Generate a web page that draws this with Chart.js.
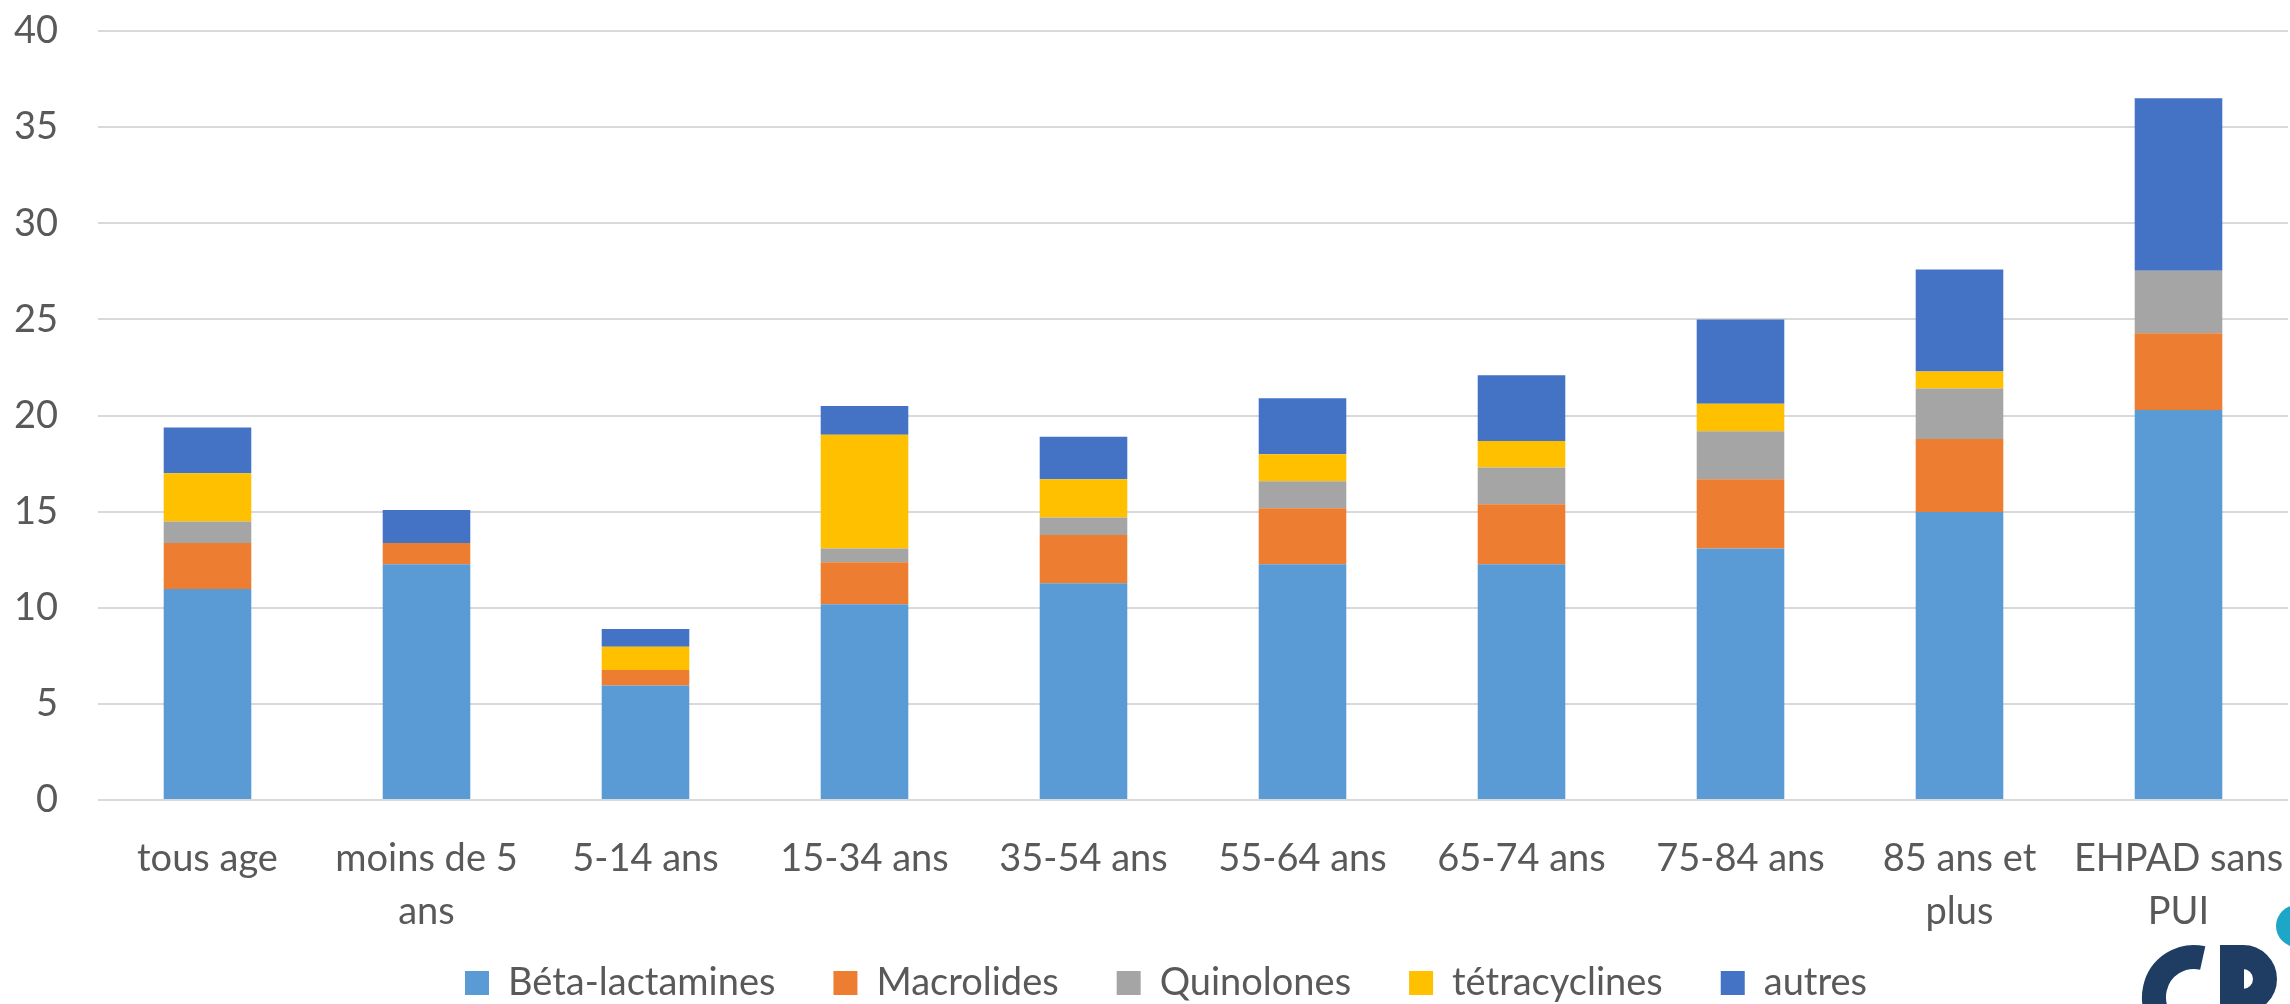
<!DOCTYPE html>
<html lang="fr">
<head>
<meta charset="utf-8">
<title>Antibiotiques par classe d'âge</title>
<script src="https://cdn.jsdelivr.net/npm/chart.js@4.4.1/dist/chart.umd.min.js"></script>
<style>
  html, body { margin: 0; padding: 0; background: #fff; }
  #wrap { width: 2290px; height: 1004px; }
</style>
</head>
<body>
<div id="wrap"><canvas id="chart" width="2290" height="1004"></canvas></div>
<script>
// categories (multi-line labels as in the original)
const ageGroups = [
    ['tous age'],
    ['moins de 5', 'ans'],
    ['5-14 ans'],
    ['15-34 ans'],
    ['35-54 ans'],
    ['55-64 ans'],
    ['65-74 ans'],
    ['75-84 ans'],
    ['85 ans et', 'plus'],
    ['EHPAD sans', 'PUI']
];

// series
const betaLactamines = [10.97, 12.26, 5.95, 10.18, 11.27, 12.26, 12.26, 13.08, 14.98, 20.29];
const macrolides     = [2.40, 1.11, 0.81, 2.19, 2.51, 2.92, 3.12, 3.60, 3.80, 3.99];
const quinolones     = [1.11, 0, 0, 0.71, 0.92, 1.40, 1.91, 2.50, 2.62, 3.25];
const tetracyclines  = [2.51, 0, 1.21, 5.92, 1.98, 1.41, 1.38, 1.43, 0.89, 0];
const autres         = [2.38, 1.72, 0.92, 1.50, 2.21, 2.91, 3.43, 4.39, 5.31, 8.97];

const seriesNames = ['Béta-lactamines', 'Macrolides', 'Quinolones', 'tétracyclines', 'autres'];
const yTicks = [0, 5, 10, 15, 20, 25, 30, 35, 40];

const textColor = '#595959';
const fontFamily = 'Lato, "Open Sans", sans-serif';

Chart.defaults.font.family = fontFamily;
Chart.defaults.font.size = 38;
Chart.defaults.color = textColor;

// the legend sits a bit right of the canvas centre and overlaps the label band,
// so nudge the boxes once the layout is done
const placement = {
    id: 'placement',
    afterLayout(chart) {
        chart.scales.x.bottom = chart.height;
        chart.legend.left = 44;
    }
};

// the partly cut logo in the bottom right corner
const logoPlugin = {
    id: 'logo',
    afterDraw(chart) {
        const ctx = chart.ctx;
        ctx.save();
        ctx.fillStyle = '#1ea6c6';
        ctx.beginPath();
        ctx.arc(2297, 926, 21, 0, Math.PI * 2);
        ctx.fill();

        ctx.strokeStyle = '#1f3d63';
        ctx.fillStyle = '#1f3d63';
        ctx.lineWidth = 24;
        ctx.lineCap = 'butt';
        // C
        ctx.beginPath();
        ctx.arc(2194, 997, 40, -0.43 * Math.PI, 0.43 * Math.PI, true);
        ctx.stroke();
        // P
        ctx.fillRect(2220, 945, 24, 70);
        ctx.beginPath();
        ctx.moveTo(2232, 957);
        ctx.arc(2243, 979, 22, -Math.PI / 2, Math.PI / 2, false);
        ctx.lineTo(2232, 1001);
        ctx.stroke();
        ctx.restore();
    }
};

const ctx = document.getElementById('chart').getContext('2d');
new Chart(ctx, {
    type: 'bar',
    data: {
        labels: ageGroups,
        datasets: [
            { label: seriesNames[0], data: betaLactamines, backgroundColor: '#5b9bd5' },
            { label: seriesNames[1], data: macrolides, backgroundColor: '#ed7d31' },
            { label: seriesNames[2], data: quinolones, backgroundColor: '#a5a5a5' },
            { label: seriesNames[3], data: tetracyclines, backgroundColor: '#ffc000' },
            { label: seriesNames[4], data: autres, backgroundColor: '#4472c4' }
        ]
    },
    options: {
        responsive: false,
        devicePixelRatio: 1,
        animation: false,
        layout: {
            padding: { left: 0, right: 2, top: 0, bottom: 0 }
        },
        datasets: {
            bar: { categoryPercentage: 1, barPercentage: 0.4, borderWidth: 0 }
        },
        scales: {
            x: {
                stacked: true,
                grid: { display: false },
                border: { display: false },
                ticks: {
                    autoSkip: false,
                    maxRotation: 0,
                    padding: 24,
                    font: { size: 38, lineHeight: 1.4 }
                },
                afterFit: s => {
                    s.height = 106;
                    s.paddingLeft = 0;
                    s.paddingRight = 0;
                }
            },
            y: {
                stacked: true,
                min: 0,
                max: 40,
                border: { display: false },
                grid: { color: '#d9d9d9', lineWidth: 2, drawTicks: false },
                ticks: { padding: 40, font: { size: 38 } },
                afterBuildTicks: s => { s.ticks = yTicks.map(v => ({ value: v })); },
                afterFit: s => {
                    s.width = 98;
                    s.paddingTop = 31;
                    s.paddingBottom = 0;
                }
            }
        },
        plugins: {
            legend: {
                position: 'bottom',
                maxHeight: 98,
                labels: {
                    boxWidth: 24,
                    boxHeight: 24,
                    padding: 58,
                    font: { size: 38 }
                }
            },
            tooltip: { enabled: false }
        }
    },
    plugins: [placement, logoPlugin]
});
</script>
</body>
</html>
